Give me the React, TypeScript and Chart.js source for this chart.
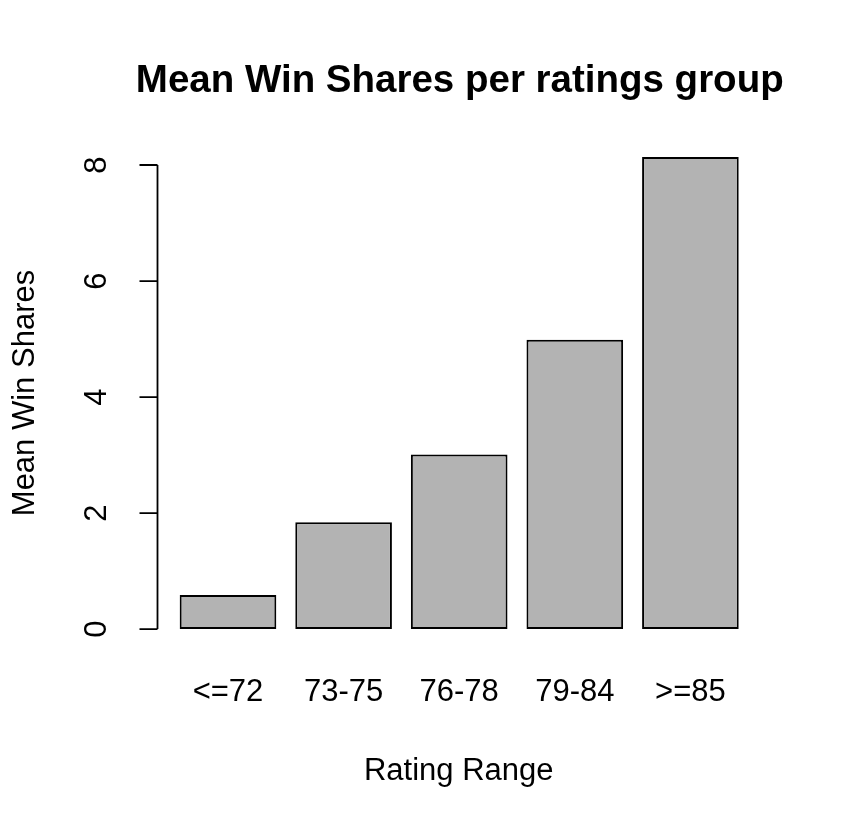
import Chart from "chart.js/auto";
import type { Plugin } from "chart.js";
import { useRef, useEffect } from "react";

const categories = ["<=72", "73-75", "76-78", "79-84", ">=85"];
const meanWinShares = [0.59, 1.84, 3.01, 4.99, 8.14];
const yTicks = [0, 2, 4, 6, 8];

const chartTitle = "Mean Win Shares per ratings group";
const xTitle = "Rating Range";
const yTitle = "Mean Win Shares";

const FONT = "'Liberation Sans', Arial, Helvetica, sans-serif";

// R-style axes, labels and title drawn on top of the chart scales
const baseRPlot: Plugin<"bar"> = {
  id: "baseRPlot",
  afterDraw(chart) {
    const { ctx, chartArea, scales } = chart;
    const y = scales.y;
    const x = scales.x;
    ctx.save();
    ctx.fillStyle = "#000";
    ctx.strokeStyle = "#000";
    ctx.lineWidth = 1.8;

    // y axis: line from first to last tick, outward ticks
    const axisX = 157.5;
    const top = y.getPixelForValue(yTicks[yTicks.length - 1]);
    const bottom = y.getPixelForValue(yTicks[0]);
    ctx.beginPath();
    ctx.moveTo(axisX, top);
    ctx.lineTo(axisX, bottom);
    yTicks.forEach((t) => {
      const py = y.getPixelForValue(t);
      ctx.moveTo(axisX, py);
      ctx.lineTo(axisX - 18, py);
    });
    ctx.stroke();

    ctx.font = `31px ${FONT}`;
    ctx.textAlign = "center";
    ctx.textBaseline = "middle";
    yTicks.forEach((t) => {
      const py = y.getPixelForValue(t);
      ctx.save();
      ctx.translate(97, py);
      ctx.rotate(-Math.PI / 2);
      ctx.fillText(String(t), 0, 0);
      ctx.restore();
    });

    // category labels
    categories.forEach((c, i) => {
      ctx.fillText(c, x.getPixelForValue(i), 692);
    });

    // axis titles
    const midX = (axisX + 760) / 2;
    ctx.fillText(xTitle, midX, 771);
    ctx.save();
    ctx.translate(25, (chartArea.top + chartArea.bottom) / 2);
    ctx.rotate(-Math.PI / 2);
    ctx.fillText(yTitle, 0, 0);
    ctx.restore();

    // main title
    ctx.font = `bold 38.5px ${FONT}`;
    ctx.fillText(chartTitle, midX + 1, 81);
    ctx.restore();
  },
};

const BarChart: React.FC = () => {
  const chartRef = useRef<HTMLCanvasElement>(null);
  const chartInstance = useRef<Chart<"bar">>();

  useEffect(() => {
    if (!chartRef.current) return;
    const ctx = chartRef.current.getContext("2d");
    if (!ctx) return;
    if (chartInstance.current) chartInstance.current.destroy();

    chartInstance.current = new Chart(ctx, {
      type: "bar",
      data: {
        labels: categories,
        datasets: [
          {
            data: meanWinShares,
            backgroundColor: "#b3b3b3",
            borderColor: "#000",
            borderWidth: 2,
            borderSkipped: false,
            barPercentage: 0.836,
            categoryPercentage: 1,
          },
        ],
      },
      options: {
        animation: false,
        responsive: true,
        maintainAspectRatio: false,
        layout: {
          padding: { left: 170.2, right: 842 - 748.2, top: 138, bottom: 830 - 648 },
        },
        plugins: {
          legend: { display: false },
          title: { display: false },
          tooltip: { enabled: false },
        },
        scales: {
          x: { display: false, offset: true, grid: { display: false } },
          y: {
            display: false,
            min: -0.3256,
            max: 8.4656,
            grid: { display: false },
          },
        },
      },
      plugins: [baseRPlot],
    });

    return () => {
      if (chartInstance.current) {
        chartInstance.current.destroy();
        chartInstance.current = undefined;
      }
    };
  }, []);

  return (
    <div
      style={{
        position: "absolute",
        left: 0,
        top: 0,
        width: 842,
        height: 830,
        background: "#fff",
      }}
    >
      <canvas ref={chartRef}></canvas>
    </div>
  );
};

export default function App() {
  return <BarChart />;
}
